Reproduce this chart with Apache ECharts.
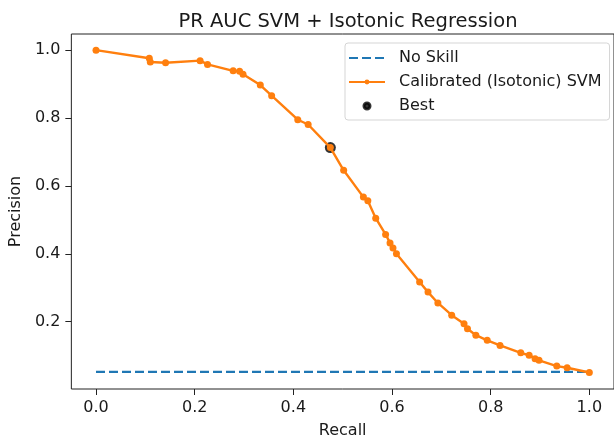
<!DOCTYPE html>
<html>
<head>
<meta charset="utf-8">
<script src="https://cdn.jsdelivr.net/npm/echarts@6/dist/echarts.min.js"></script>
<style>
  html, body { margin: 0; padding: 0; background: #fff; }
  #chart { width: 614px; height: 444px; }
</style>
</head>
<body>
<div id="chart"></div>
<script>
// values
const recall = [0, 0.108, 0.11, 0.141, 0.211, 0.226, 0.278, 0.291, 0.298, 0.333, 0.356,
  0.409, 0.43, 0.475, 0.502, 0.542, 0.551, 0.567, 0.587, 0.596, 0.602, 0.609, 0.656,
  0.673, 0.693, 0.721, 0.746, 0.753, 0.77, 0.793, 0.819, 0.861, 0.878, 0.89, 0.898,
  0.934, 0.955, 1.0];
const precision = [1.0, 0.976, 0.965, 0.963, 0.969, 0.958, 0.939, 0.938, 0.929, 0.897, 0.866,
  0.795, 0.781, 0.713, 0.646, 0.567, 0.556, 0.505, 0.457, 0.432, 0.417, 0.4, 0.317,
  0.287, 0.255, 0.219, 0.194, 0.179, 0.16, 0.145, 0.13, 0.108, 0.101, 0.091, 0.086,
  0.069, 0.064, 0.05];
const noSkill = [[0, 0.052], [1, 0.052]];
const best = [[0.475, 0.713]];
const xTicks = [0, 0.2, 0.4, 0.6, 0.8, 1.0];
const yTicks = [0.2, 0.4, 0.6, 0.8, 1.0];

const font = 'DejaVu Sans';
const ink = '#1a1a1a';
const curve = recall.map((r, i) => [r, precision[i]]);

const chart = echarts.init(document.getElementById('chart'), null, { renderer: 'canvas' });
chart.setOption({
  animation: false,
  backgroundColor: '#fff',
  title: {
    text: 'PR AUC SVM + Isotonic Regression',
    left: 343,
    top: 7,
    textAlign: 'center',
    textStyle: { fontFamily: font, fontSize: 19.5, fontWeight: 'normal', color: ink }
  },
  grid: {
    left: 70, right: -4, top: 34, bottom: 54,
    show: true, borderColor: '#222', borderWidth: 1, backgroundColor: 'transparent'
  },
  legend: {
    orient: 'vertical',
    left: 345, top: 43,
    padding: [7, 8, 6, 3],
    itemWidth: 36, itemHeight: 6, itemGap: 8,
    backgroundColor: '#fff',
    borderColor: '#d5d5d5', borderWidth: 1, borderRadius: 3,
    textStyle: { fontFamily: font, fontSize: 16, color: ink, padding: [0, 0, 0, 9] },
    data: [
      { name: 'No Skill', itemStyle: { opacity: 0 } },
      { name: 'Calibrated (Isotonic) SVM' },
      { name: 'Best', itemStyle: { borderColor: '#000', borderWidth: 3 } }
    ]
  },
  xAxis: {
    type: 'value', min: -0.05, max: 1.05,
    name: 'Recall', nameLocation: 'middle', nameGap: 34,
    nameTextStyle: { fontFamily: font, fontSize: 16, color: ink },
    splitLine: { show: false },
    axisLine: { show: false, onZero: false },
    axisTick: { show: true, length: 6, customValues: xTicks, lineStyle: { color: '#222' } },
    axisLabel: {
      customValues: xTicks, margin: 11,
      fontFamily: font, fontSize: 16, color: ink,
      formatter: v => v.toFixed(1)
    }
  },
  yAxis: {
    type: 'value', min: 0.0015, max: 1.0476,
    name: 'Precision', nameLocation: 'middle', nameGap: 45,
    nameTextStyle: { fontFamily: font, fontSize: 16, color: ink },
    splitLine: { show: false },
    axisLine: { show: false, onZero: false },
    axisTick: { show: true, length: 6, customValues: yTicks, lineStyle: { color: '#222' } },
    axisLabel: {
      customValues: yTicks, margin: 11,
      fontFamily: font, fontSize: 16, color: ink,
      formatter: v => v.toFixed(1)
    }
  },
  series: [
    {
      name: 'No Skill', type: 'line', data: noSkill,
      symbol: 'none', z: 2,
      lineStyle: { color: '#1f77b4', width: 2.4, type: [9, 4] },
      itemStyle: { color: '#1f77b4' }
    },
    {
      name: 'Calibrated (Isotonic) SVM', type: 'line', data: curve,
      symbol: 'circle', symbolSize: 7, showAllSymbol: true, z: 3,
      lineStyle: { color: '#ff7f0e', width: 2.4 },
      itemStyle: { color: '#ff7f0e' }
    },
    {
      name: 'Best', type: 'scatter', data: best,
      symbol: 'circle', symbolSize: 11, z: 1,
      itemStyle: { color: '#000' }
    }
  ]
});
</script>
</body>
</html>
